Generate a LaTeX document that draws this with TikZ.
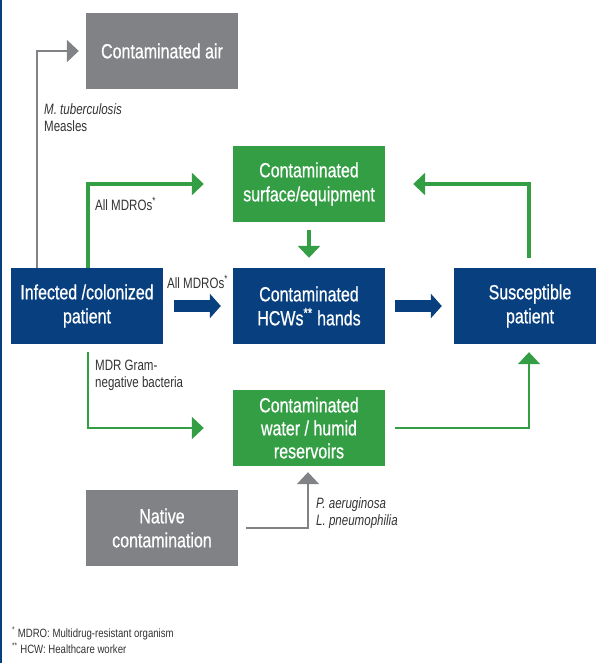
\documentclass[tikz,border=0pt]{standalone}
\usepackage{fontspec}
\setmainfont{Liberation Sans}[FakeStretch=0.77]
\newfontfamily\boxfont{Liberation Sans}[FakeStretch=0.78, FakeBold=0.6]
\newfontfamily\footfont{Liberation Sans}[FakeStretch=0.8]
\usetikzlibrary{arrows.meta}
\definecolor{cblue}{HTML}{08407F}
\definecolor{cgreen}{HTML}{339E44}
\definecolor{cgray}{HTML}{808285}
\definecolor{ctext}{HTML}{333333}
\tikzset{
  box/.style={minimum width=152pt, minimum height=76pt, inner sep=0pt, align=center, text=white, font=\boxfont\fontsize{20.5}{24}\selectfont},
  bluebox/.style={box, fill=cblue},
  greenbox/.style={box, fill=cgreen},
  graybox/.style={box, fill=cgray},
  lbl/.style={anchor=base west, inner sep=0pt, text=ctext, font=\fontsize{15}{16}\selectfont},
  foot/.style={anchor=base west, inner sep=0pt, text=ctext, font=\footfont\fontsize{12}{16}\selectfont},
  gthick/.style={draw=cgreen, line width=3.5pt, -{Triangle[length=12pt,width=22pt]}},
  gthin/.style={draw=cgreen, line width=2pt, -{Triangle[length=12pt,width=22pt]}},
  grayarrow/.style={draw=cgray, line width=2pt, -{Triangle[length=12pt,width=22pt]}},
  bluearrow/.style={draw=cblue, line width=12pt, -{Triangle[length=11pt,width=24pt]}},
}
\begin{document}
\begin{tikzpicture}[x=1pt,y=-1pt]
\useasboundingbox (0,0) rectangle (595,663);
\fill[white] (0,0) rectangle (595,663);
\draw[cblue, line width=1.5pt] (0.75,0) -- (0.75,663);

\node[graybox]  (air)      at (162,51)  {Contaminated air};
\node[greenbox] (surface)  at (309,184) {Contaminated\\surface/equipment};
\node[bluebox]  (infected) at (87,306)  {Infected /colonized\\patient};
\node[bluebox]  (hcw)      at (309,306) {Contaminated\\HCWs\textsuperscript{**} hands};
\node[bluebox]  (susc)     at (530,306) {Susceptible\\patient};
\node[greenbox, font=\boxfont\fontsize{20.5}{23}\selectfont] (water) at (309,428) {Contaminated\\water / humid\\reservoirs};
\node[graybox]  (native)   at (162,528) {Native\\contamination};

% connectors
\draw[grayarrow] ([xshift=-50pt]infected.north) |- ([xshift=-7pt]air.west);
\draw[gthick] ([xshift=1pt]infected.north) |- ([xshift=-29pt]surface.west);
\draw[bluearrow] ([xshift=11pt]infected.east) -- ([xshift=-12pt]hcw.west);
\draw[bluearrow] ([xshift=10pt]hcw.east) -- ([xshift=-12pt]susc.west);
\draw[gthick] ([yshift=-8pt]surface.south) -- ([yshift=10pt]hcw.north);
\draw[gthick] ([shift={(-1,-10)}]susc.north) |- ([xshift=28pt]surface.east);
\draw[gthin] ([xshift=10pt]water.east) -| ([shift={(-1,8)}]susc.south);
\draw[gthin] ([shift={(1,8)}]infected.south) |- ([xshift=-29pt]water.west);
\draw[grayarrow] ([xshift=8pt]native.east) -| ([shift={(-1,6)}]water.south);

% labels
\node[lbl] (l1) at (44,115) {\itshape M. tuberculosis};
\node[lbl] (l2) at (44,132) {Measles};
\node[lbl] (l3) at (95,210) {All MDROs\textsuperscript{*}};
\node[lbl] (l4) at (167,288) {All MDROs\textsuperscript{*}};
\node[lbl] (l5) at (95,370) {MDR Gram-};
\node[lbl] (l6) at (95,387) {negative bacteria};
\node[lbl] (l7) at (316,508) {\itshape P. aeruginosa};
\node[lbl] (l8) at (316,525) {\itshape L. pneumophilia};

% footnotes
\node[foot] (f1) at (12,637) {\textsuperscript{*} MDRO: Multidrug-resistant organism};
\node[foot] (f2) at (12,653) {\textsuperscript{**} HCW: Healthcare worker};
\end{tikzpicture}
\end{document}
